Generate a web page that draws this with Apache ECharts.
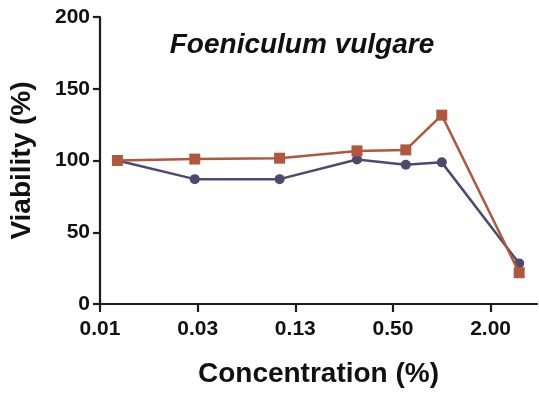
<!DOCTYPE html>
<html>
<head>
<meta charset="utf-8">
<script src="https://cdn.jsdelivr.net/npm/echarts@6/dist/echarts.min.js"></script>
<style>
html,body{margin:0;padding:0;background:#fff;}
#chart{width:539px;height:393px;}
</style>
</head>
<body>
<div id="chart"></div>
<script>
// Data (concentration in %, viability in %)
var concentrations = [0.01, 0.03, 0.1, 0.3, 0.6, 1, 3];
var seriesBlue = [100, 87, 87, 100.7, 97, 98.7, 28.3];
var seriesRed = [100, 101, 101.6, 106.7, 107.4, 131.6, 21.8];
// Log2-spaced axis ticks (2^-7 ... 2^1) and their printed labels
var tickExponents = [-7, -5, -3, -1, 1];
var tickLabels = ['0.01', '0.03', '0.13', '0.50', '2.00'];
var yTicks = [0, 50, 100, 150, 200];

function pairs(vals) {
  return concentrations.map(function (c, i) { return [Math.log2(c), vals[i]]; });
}

var chart = echarts.init(document.getElementById('chart'), null, {renderer: 'canvas'});
var font = 'Liberation Sans, Arial, sans-serif';
var axisColor = '#1c1c1c';
chart.setOption({
  animation: false,
  backgroundColor: '#ffffff',
  title: {
    text: 'Foeniculum vulgare',
    left: 297, top: 26, textAlign: 'center',
    textStyle: {fontFamily: font, fontSize: 28, fontWeight: 'bold', fontStyle: 'italic', color: '#111'}
  },
  grid: {left: 95, right: 2, top: 17, bottom: 78, containLabel: false},
  xAxis: {
    type: 'value',
    min: -7, max: 1.95,
    name: 'Concentration (%)',
    nameLocation: 'middle',
    nameGap: 56,
    nameTextStyle: {fontFamily: font, fontSize: 28, fontWeight: 'bold', color: '#111'},
    axisLine: {show: true, onZero: false, lineStyle: {color: axisColor, width: 2.2}},
    axisTick: {show: true, customValues: tickExponents, length: 8, lineStyle: {color: axisColor, width: 2.2}},
    axisLabel: {
      customValues: tickExponents, margin: 15,
      fontFamily: font, fontSize: 21, fontWeight: 'bold', color: '#111',
      formatter: function (v) {
        var i = tickExponents.indexOf(Math.round(v));
        return i >= 0 ? tickLabels[i] : '';
      }
    },
    splitLine: {show: false}
  },
  yAxis: {
    type: 'value',
    min: 0, max: 200, interval: 50,
    name: 'Viability (%)',
    nameLocation: 'middle',
    nameGap: 64,
    nameTextStyle: {fontFamily: font, fontSize: 28, fontWeight: 'bold', color: '#111'},
    axisLine: {show: true, onZero: false, lineStyle: {color: axisColor, width: 2.2}},
    axisTick: {show: true, length: 7, lineStyle: {color: axisColor, width: 2.2}},
    axisLabel: {
      margin: 10, fontFamily: font, fontSize: 21, fontWeight: 'bold', color: '#111',
      formatter: function (v) { return yTicks.indexOf(v) >= 0 ? String(v) : ''; }
    },
    splitLine: {show: false}
  },
  series: [
    {
      type: 'line', data: pairs(seriesBlue),
      symbol: 'circle', symbolSize: 10,
      lineStyle: {color: '#4d4a6e', width: 2.5},
      itemStyle: {color: '#4d4a6e'},
      z: 2
    },
    {
      type: 'line', data: pairs(seriesRed),
      symbol: 'rect', symbolSize: 11,
      lineStyle: {color: '#b0583e', width: 2.5},
      itemStyle: {color: '#b0583e'},
      z: 3
    }
  ]
});
</script>
</body>
</html>
